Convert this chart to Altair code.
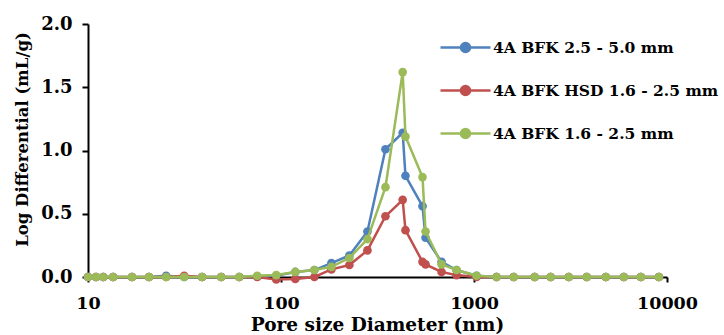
import altair as alt
import pandas as pd

# Pore diameters (nm) shared by the three samples
diameter = [10, 11, 12, 13.5, 16.9, 20.7, 25.4, 31.5, 39, 49, 60.8, 75.3, 94.5,
            118.6, 148.9, 182.4, 226, 280.5, 347.7, 427, 441.5, 541, 561, 679,
            812, 1031, 1309, 1606, 2063, 2497, 3098, 3839, 4819, 5974, 7320, 9078]

# Log differential intrusion (mL/g)
bfk_25_50 = [0, 0, 0, 0, 0, 0, 0.01, 0, 0, 0, 0, 0.005, 0.01,
             0.04, 0.055, 0.11, 0.17, 0.36, 1.01, 1.14, 0.80, 0.56, 0.31, 0.12,
             0.055, 0.01, 0, 0, 0, 0, 0, 0, 0, 0, 0, 0]
bfk_hsd_16_25 = [0, 0, 0, 0, 0, 0, 0, 0.01, 0, 0, 0, 0, -0.02,
                 -0.015, 0.0, 0.06, 0.095, 0.21, 0.48, 0.61, 0.37, 0.12, 0.10, 0.04,
                 0.015, 0, 0, 0, 0, 0, 0, 0, 0, 0, 0, 0]
bfk_16_25 = [0, 0, 0, 0, 0, 0, 0, 0, 0, 0, 0, 0.01, 0.015,
             0.04, 0.055, 0.08, 0.15, 0.30, 0.71, 1.62, 1.11, 0.79, 0.36, 0.10,
             0.055, 0.01, 0, 0, 0, 0, 0, 0, 0, 0, 0, 0]

series_names = ["4A BFK 2.5 - 5.0 mm", "4A BFK HSD 1.6 - 2.5 mm", "4A BFK 1.6 - 2.5 mm"]
series_values = [bfk_25_50, bfk_hsd_16_25, bfk_16_25]
series_colors = ["#4F81BD", "#C0504D", "#9BBB59"]

x_ticks = [10, 100, 1000, 10000]
y_ticks = [0, 0.5, 1.0, 1.5, 2.0]

rows = []
for name, vals in zip(series_names, series_values):
    for d, v in zip(diameter, vals):
        rows.append({"Diameter": d, "Value": v, "Sample": name})
df = pd.DataFrame(rows)

FONT = "DejaVu Serif"

x_enc = alt.X(
    "Diameter:Q",
    scale=alt.Scale(type="log", domain=[10, 10000]),
    axis=alt.Axis(values=x_ticks, format="d", title="Pore size Diameter (nm)",
                  titleX=289, titleY=53, titleAnchor="middle", titleAlign="center",
                  titleBaseline="alphabetic", titleFontSize=18.5,
                  tickSize=5, labelPadding=12, labelFontSize=17.5, labelFlush=False),
)
y_enc = alt.Y(
    "Value:Q",
    scale=alt.Scale(domain=[0, 2]),
    axis=alt.Axis(values=y_ticks, format=".1f", title="Log Differential (mL/g)",
                  titleX=-66, titleY=115, titleAngle=270, titleAlign="center",
                  titleBaseline="middle", titleFontSize=16.5,
                  tickSize=6, labelPadding=10, labelFontSize=18, labelFlush=False),
)
color_enc = alt.Color(
    "Sample:N",
    scale=alt.Scale(domain=series_names, range=series_colors),
    legend=alt.Legend(
        title=None, orient="none", legendX=351, legendY=-3,
        symbolType="M-1,0L1,0M0.18,0A0.18,0.18,0,1,1,-0.18,0A0.18,0.18,0,1,1,0.18,0",
        symbolSize=2500, symbolStrokeWidth=2.5, rowPadding=7, labelOffset=1,
        labelFont=FONT, labelFontSize=15.5, labelFontWeight="bold", labelColor="#000",
        labelLimit=400,
    ),
)

layers = []
for name in series_names:
    layers.append(
        alt.Chart(df)
        .transform_filter(alt.datum.Sample == name)
        .mark_line(strokeWidth=2.5, clip=False,
                   point=alt.OverlayMarkDef(filled=True, size=75, opacity=1))
        .encode(x=x_enc, y=y_enc, color=color_enc)
    )

chart = (
    alt.layer(*layers)
    .properties(
        width=579, height=253,
        autosize=alt.AutoSizeParams(type="none"),
        padding={"left": 88, "top": 24, "right": 57, "bottom": 58},
    )
    .configure_view(stroke=None)
    .configure_axis(
        grid=False, domainColor="#000", domainWidth=2, tickColor="#000", tickWidth=2,
        labelFont=FONT, labelFontWeight="bold", labelColor="#000",
        titleFont=FONT, titleFontWeight="bold", titleColor="#000",
    )
)

chart.save("out.html", embed_options={"renderer": "svg", "actions": False})
